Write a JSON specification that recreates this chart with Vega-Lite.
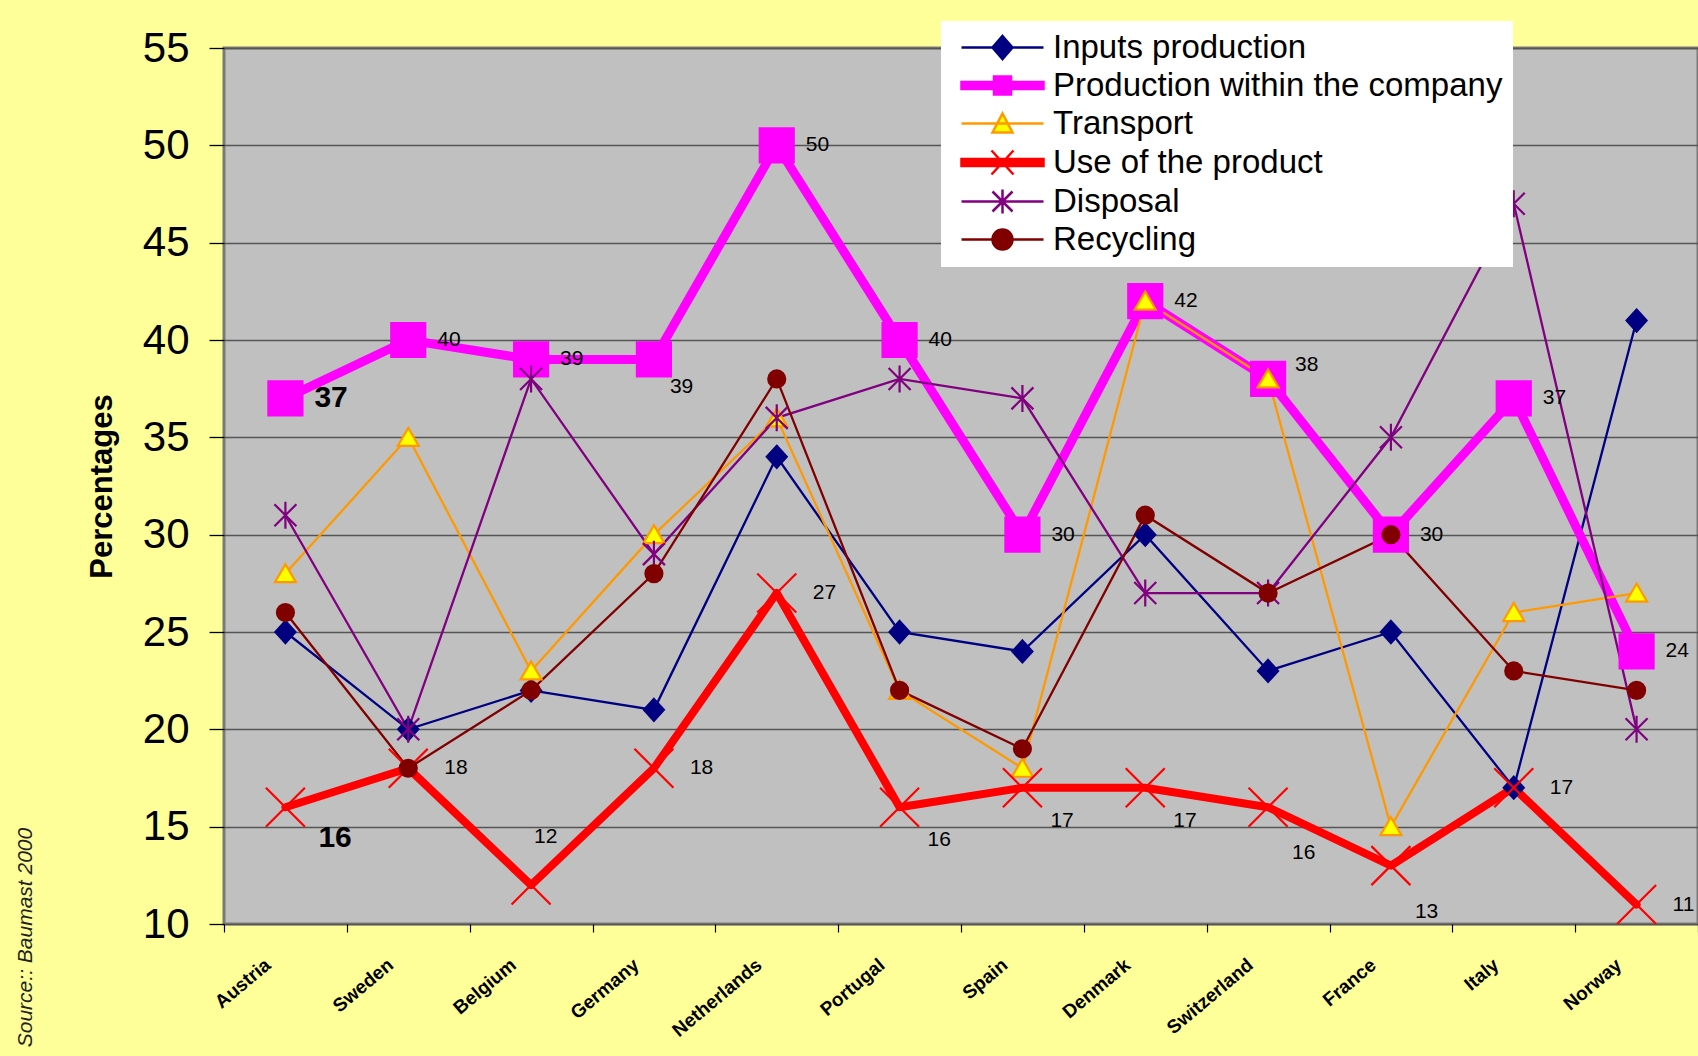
{
  "$schema": "https://vega.github.io/schema/vega-lite/v6.json",
  "width": 1474,
  "height": 876,
  "autosize": {"type": "none"},
  "padding": {"left": 224, "top": 48, "right": 0, "bottom": 132},
  "background": "#FFFF99",
  "title": {
    "text": "Source:: Baumast 2000",
    "orient": "left",
    "anchor": "start",
    "frame": "bounds",
    "offset": 50,
    "dx": -7,
    "font": "Liberation Sans",
    "fontSize": 21,
    "fontStyle": "italic",
    "fontWeight": "normal",
    "color": "#222222"
  },
  "data": {
    "values": [
      {"country": "Austria", "series": "Inputs production", "value": 25},
      {"country": "Sweden", "series": "Inputs production", "value": 20},
      {"country": "Belgium", "series": "Inputs production", "value": 22},
      {"country": "Germany", "series": "Inputs production", "value": 21},
      {"country": "Netherlands", "series": "Inputs production", "value": 34},
      {"country": "Portugal", "series": "Inputs production", "value": 25},
      {"country": "Spain", "series": "Inputs production", "value": 24},
      {"country": "Denmark", "series": "Inputs production", "value": 30},
      {"country": "Switzerland", "series": "Inputs production", "value": 23},
      {"country": "France", "series": "Inputs production", "value": 25},
      {"country": "Italy", "series": "Inputs production", "value": 17},
      {"country": "Norway", "series": "Inputs production", "value": 41},
      {"country": "Austria", "series": "Production within the company", "value": 37},
      {"country": "Sweden", "series": "Production within the company", "value": 40},
      {"country": "Belgium", "series": "Production within the company", "value": 39},
      {"country": "Germany", "series": "Production within the company", "value": 39},
      {"country": "Netherlands", "series": "Production within the company", "value": 50},
      {"country": "Portugal", "series": "Production within the company", "value": 40},
      {"country": "Spain", "series": "Production within the company", "value": 30},
      {"country": "Denmark", "series": "Production within the company", "value": 42},
      {"country": "Switzerland", "series": "Production within the company", "value": 38},
      {"country": "France", "series": "Production within the company", "value": 30},
      {"country": "Italy", "series": "Production within the company", "value": 37},
      {"country": "Norway", "series": "Production within the company", "value": 24},
      {"country": "Austria", "series": "Transport", "value": 28},
      {"country": "Sweden", "series": "Transport", "value": 35},
      {"country": "Belgium", "series": "Transport", "value": 23},
      {"country": "Germany", "series": "Transport", "value": 30},
      {"country": "Netherlands", "series": "Transport", "value": 36},
      {"country": "Portugal", "series": "Transport", "value": 22},
      {"country": "Spain", "series": "Transport", "value": 18},
      {"country": "Denmark", "series": "Transport", "value": 42},
      {"country": "Switzerland", "series": "Transport", "value": 38},
      {"country": "France", "series": "Transport", "value": 15},
      {"country": "Italy", "series": "Transport", "value": 26},
      {"country": "Norway", "series": "Transport", "value": 27},
      {"country": "Austria", "series": "Use of the product", "value": 16},
      {"country": "Sweden", "series": "Use of the product", "value": 18},
      {"country": "Belgium", "series": "Use of the product", "value": 12},
      {"country": "Germany", "series": "Use of the product", "value": 18},
      {"country": "Netherlands", "series": "Use of the product", "value": 27},
      {"country": "Portugal", "series": "Use of the product", "value": 16},
      {"country": "Spain", "series": "Use of the product", "value": 17},
      {"country": "Denmark", "series": "Use of the product", "value": 17},
      {"country": "Switzerland", "series": "Use of the product", "value": 16},
      {"country": "France", "series": "Use of the product", "value": 13},
      {"country": "Italy", "series": "Use of the product", "value": 17},
      {"country": "Norway", "series": "Use of the product", "value": 11},
      {"country": "Austria", "series": "Disposal", "value": 31},
      {"country": "Sweden", "series": "Disposal", "value": 20},
      {"country": "Belgium", "series": "Disposal", "value": 38},
      {"country": "Germany", "series": "Disposal", "value": 29},
      {"country": "Netherlands", "series": "Disposal", "value": 36},
      {"country": "Portugal", "series": "Disposal", "value": 38},
      {"country": "Spain", "series": "Disposal", "value": 37},
      {"country": "Denmark", "series": "Disposal", "value": 27},
      {"country": "Switzerland", "series": "Disposal", "value": 27},
      {"country": "France", "series": "Disposal", "value": 35},
      {"country": "Italy", "series": "Disposal", "value": 47},
      {"country": "Norway", "series": "Disposal", "value": 20},
      {"country": "Austria", "series": "Recycling", "value": 26},
      {"country": "Sweden", "series": "Recycling", "value": 18},
      {"country": "Belgium", "series": "Recycling", "value": 22},
      {"country": "Germany", "series": "Recycling", "value": 28},
      {"country": "Netherlands", "series": "Recycling", "value": 38},
      {"country": "Portugal", "series": "Recycling", "value": 22},
      {"country": "Spain", "series": "Recycling", "value": 19},
      {"country": "Denmark", "series": "Recycling", "value": 31},
      {"country": "Switzerland", "series": "Recycling", "value": 27},
      {"country": "France", "series": "Recycling", "value": 30},
      {"country": "Italy", "series": "Recycling", "value": 23},
      {"country": "Norway", "series": "Recycling", "value": 22}
    ]
  },
  "encoding": {
    "x": {
      "field": "country",
      "type": "nominal",
      "sort": ["Austria", "Sweden", "Belgium", "Germany", "Netherlands", "Portugal", "Spain", "Denmark", "Switzerland", "France", "Italy", "Norway"],
      "scale": {"type": "band", "paddingInner": 0, "paddingOuter": 0},
      "axis": {
        "title": null,
        "domain": false,
        "grid": false,
        "tickBand": "extent",
        "tickSize": 8,
        "tickColor": "#000000",
        "tickWidth": 1.2,
        "labelAngle": -40,
        "labelAlign": "right",
        "labelBaseline": "middle",
        "labelFontSize": 19,
        "labelFontWeight": "bold",
        "labelColor": "#000000",
        "labelPadding": 30,
        "labelOffset": -18
      }
    },
    "y": {
      "field": "value",
      "type": "quantitative",
      "scale": {"domain": [10, 55], "nice": false, "zero": false},
      "axis": {
        "title": "Percentages",
        "values": [10, 15, 20, 25, 30, 35, 40, 45, 50, 55],
        "domain": false,
        "grid": true,
        "gridColor": "#555555",
        "gridWidth": 1.3,
        "tickColor": "#000000",
        "tickSize": 15,
        "tickWidth": 1.3,
        "labelFontSize": 42,
        "labelColor": "#000000",
        "labelPadding": 20,
        "titleFontSize": 31,
        "titleFontWeight": "bold",
        "titleColor": "#000000",
        "titlePadding": 24
      }
    }
  },
  "layer": [
    {
      "transform": [{"filter": "datum.series === 'Inputs production'"}],
      "mark": {"type": "line", "stroke": "#000080", "strokeWidth": 2.3},
      "encoding": {"order": {"value": null}}
    },
    {
      "transform": [{"filter": "datum.series === 'Production within the company'"}],
      "mark": {"type": "line", "stroke": "#FF00FF", "strokeWidth": 9, "strokeJoin": "round", "strokeCap": "round"},
      "encoding": {"order": {"value": null}}
    },
    {
      "transform": [{"filter": "datum.series === 'Transport'"}],
      "mark": {"type": "line", "stroke": "#FF9900", "strokeWidth": 2.3},
      "encoding": {"order": {"value": null}}
    },
    {
      "transform": [{"filter": "datum.series === 'Use of the product'"}],
      "mark": {"type": "line", "stroke": "#FF0000", "strokeWidth": 8, "strokeJoin": "round", "strokeCap": "round"},
      "encoding": {"order": {"value": null}}
    },
    {
      "transform": [{"filter": "datum.series === 'Disposal'"}],
      "mark": {"type": "line", "stroke": "#800080", "strokeWidth": 2.3},
      "encoding": {"order": {"value": null}}
    },
    {
      "transform": [{"filter": "datum.series === 'Recycling'"}],
      "mark": {"type": "line", "stroke": "#800000", "strokeWidth": 2.3},
      "encoding": {"order": {"value": null}}
    },
    {
      "mark": {"type": "point", "opacity": 1, "size": 400, "strokeWidth": 2.2},
      "encoding": {
        "shape": {
          "field": "series", "type": "nominal", "legend": null,
          "scale": {
            "domain": ["Inputs production", "Production within the company", "Transport", "Use of the product", "Disposal", "Recycling"],
            "range": [
              "M0,-1.1L1,0L0,1.1L-1,0Z",
              "M-1.7,-1.7H1.7V1.7H-1.7Z",
              "M0,-0.95L1.05,0.85H-1.05Z",
              "M-1.95,-1.95L1.95,1.95M-1.95,1.95L1.95,-1.95",
              "M-1.1,-1.1L1.1,1.1M-1.1,1.1L1.1,-1.1M0,-1.35V1.35",
              "M-0.85,0A0.85,0.85 0 1,0 0.85,0A0.85,0.85 0 1,0 -0.85,0Z"
            ]
          }
        },
        "fill": {
          "field": "series", "type": "nominal", "legend": null,
          "scale": {
            "domain": ["Inputs production", "Production within the company", "Transport", "Use of the product", "Disposal", "Recycling"],
            "range": ["#000080", "#FF00FF", "#FFFF00", "#FF0000", "#800080", "#800000"]
          }
        },
        "stroke": {
          "field": "series", "type": "nominal", "legend": null,
          "scale": {
            "domain": ["Inputs production", "Production within the company", "Transport", "Use of the product", "Disposal", "Recycling"],
            "range": ["#000080", "#FF00FF", "#FF9900", "#FF0000", "#800080", "#800000"]
          }
        }
      }
    },
    {
      "transform": [{"filter": "false"}],
      "mark": {"type": "point", "opacity": 1, "size": 400, "strokeWidth": 2.5},
      "encoding": {
        "shape": {
          "field": "series", "type": "nominal",
          "legend": {"title": null, "orient": "none", "legendX": 717, "legendY": -27},
          "scale": {
            "domain": ["Inputs production", "Production within the company", "Transport", "Use of the product", "Disposal", "Recycling"],
            "range": [
              "M-4.1,0H4.1M0,-1.15L1,0L0,1.15L-1,0Z",
              "M-4.1,-0.35H4.1V0.35H-4.1ZM-0.85,-0.9H0.85V0.9H-0.85Z",
              "M-4.1,0H4.1M0,-1L1,0.9H-1Z",
              "M-4.1,-0.35H4.1V0.35H-4.1ZM-1.1,-1.2L1.1,1.2M-1.1,1.2L1.1,-1.2",
              "M-4.1,0H4.1M-1,-1L1,1M-1,1L1,-1M0,-1.2V1.2",
              "M-4.1,0H4.1M-1,0A1,1 0 1,0 1,0A1,1 0 1,0 -1,0Z"
            ]
          }
        },
        "fill": {
          "field": "series", "type": "nominal",
          "legend": {"title": null, "orient": "none", "legendX": 717, "legendY": -27},
          "scale": {
            "domain": ["Inputs production", "Production within the company", "Transport", "Use of the product", "Disposal", "Recycling"],
            "range": ["#000080", "#FF00FF", "#FFFF00", "#FF0000", "#800080", "#800000"]
          }
        },
        "stroke": {
          "field": "series", "type": "nominal",
          "legend": {"title": null, "orient": "none", "legendX": 717, "legendY": -27},
          "scale": {
            "domain": ["Inputs production", "Production within the company", "Transport", "Use of the product", "Disposal", "Recycling"],
            "range": ["#000080", "#FF00FF", "#FF9900", "#FF0000", "#800080", "#800000"]
          }
        }
      }
    },
    {
      "transform": [{"filter": "datum.series === 'Production within the company' && datum.country === 'Austria'"}],
      "mark": {"type": "text", "align": "left", "baseline": "middle", "dx": 29, "fontSize": 30, "fontWeight": "bold", "color": "#000000"},
      "encoding": {"text": {"field": "value", "type": "quantitative"}}
    },
    {
      "transform": [{"filter": "datum.series === 'Production within the company' && indexof(['Austria','Germany','Switzerland'], datum.country) < 0"}],
      "mark": {"type": "text", "align": "left", "baseline": "middle", "dx": 29, "fontSize": 21, "color": "#000000"},
      "encoding": {"text": {"field": "value", "type": "quantitative"}}
    },
    {
      "transform": [{"filter": "datum.series === 'Production within the company' && datum.country === 'Germany'"}],
      "mark": {"type": "text", "align": "left", "baseline": "middle", "dx": 16, "dy": 28, "fontSize": 21, "color": "#000000"},
      "encoding": {"text": {"field": "value", "type": "quantitative"}}
    },
    {
      "transform": [{"filter": "datum.series === 'Production within the company' && datum.country === 'Switzerland'"}],
      "mark": {"type": "text", "align": "left", "baseline": "middle", "dx": 27, "dy": -14, "fontSize": 21, "color": "#000000"},
      "encoding": {"text": {"field": "value", "type": "quantitative"}}
    },
    {
      "transform": [{"filter": "datum.series === 'Use of the product' && datum.country === 'Austria'"}],
      "mark": {"type": "text", "align": "left", "baseline": "middle", "dx": 33, "dy": 31, "fontSize": 30, "fontWeight": "bold", "color": "#000000"},
      "encoding": {"text": {"field": "value", "type": "quantitative"}}
    },
    {
      "transform": [{"filter": "datum.series === 'Use of the product' && indexof(['Sweden','Germany','Netherlands','Italy','Norway'], datum.country) >= 0"}],
      "mark": {"type": "text", "align": "left", "baseline": "middle", "dx": 36, "fontSize": 21, "color": "#000000"},
      "encoding": {"text": {"field": "value", "type": "quantitative"}}
    },
    {
      "transform": [{"filter": "datum.series === 'Use of the product' && indexof(['Portugal','Spain','Denmark'], datum.country) >= 0"}],
      "mark": {"type": "text", "align": "left", "baseline": "middle", "dx": 28, "dy": 33, "fontSize": 21, "color": "#000000"},
      "encoding": {"text": {"field": "value", "type": "quantitative"}}
    },
    {
      "transform": [{"filter": "datum.series === 'Use of the product' && indexof(['Switzerland','France'], datum.country) >= 0"}],
      "mark": {"type": "text", "align": "left", "baseline": "middle", "dx": 24, "dy": 46, "fontSize": 21, "color": "#000000"},
      "encoding": {"text": {"field": "value", "type": "quantitative"}}
    },
    {
      "transform": [{"filter": "datum.series === 'Use of the product' && datum.country === 'Belgium'"}],
      "mark": {"type": "text", "align": "left", "baseline": "middle", "dx": 3, "dy": -48, "fontSize": 21, "color": "#000000"},
      "encoding": {"text": {"field": "value", "type": "quantitative"}}
    }
  ],
  "resolve": {"scale": {"fill": "independent", "stroke": "independent", "shape": "independent"}},
  "config": {
    "font": "Liberation Sans",
    "view": {"fill": "#C0C0C0", "stroke": "#7A7A7A", "strokeWidth": 3},
    "legend": {
      "fillColor": "#FFFFFF",
      "padding": 10,
      "symbolSize": 400,
      "symbolStrokeWidth": 2.5,
      "symbolOffset": 35,
      "labelOffset": 34,
      "labelFont": "Liberation Sans",
      "labelFontSize": 33,
      "labelColor": "#000000",
      "labelLimit": 700,
      "rowPadding": 4
    }
  }
}
